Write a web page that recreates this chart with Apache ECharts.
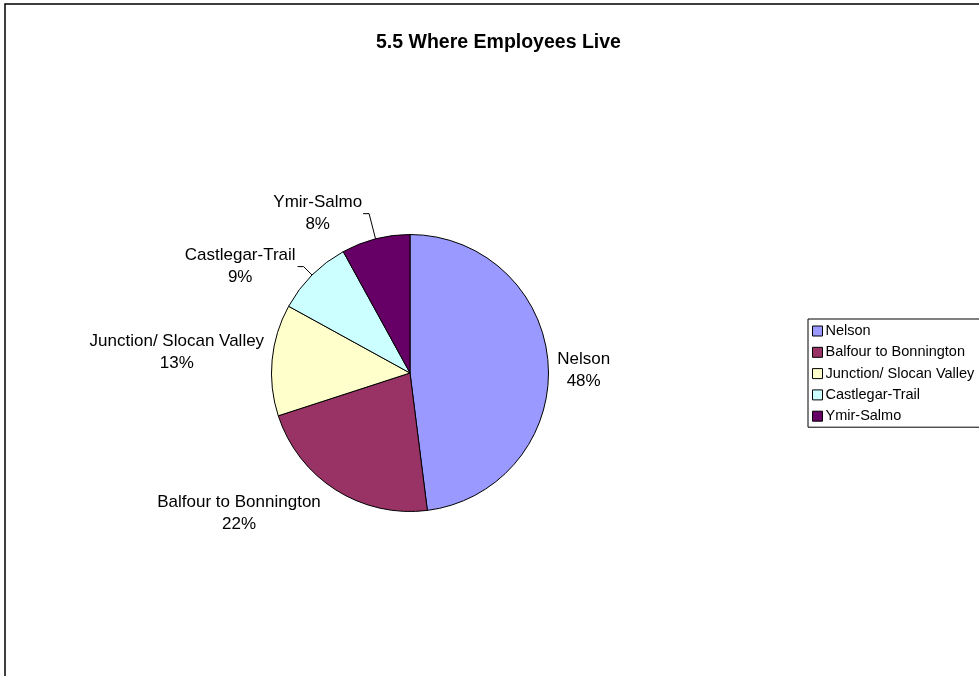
<!DOCTYPE html>
<html>
<head>
<meta charset="utf-8">
<script src="https://cdn.jsdelivr.net/npm/echarts@6/dist/echarts.min.js"></script>
<style>
  html, body { margin: 0; padding: 0; background: #fff; }
  #chart { width: 979px; height: 676px; }
</style>
</head>
<body>
<div id="chart"></div>
<script>
// Where employees live, share of staff (%)
const categories = ['Nelson', 'Balfour to Bonnington', 'Junction/ Slocan Valley', 'Castlegar-Trail', 'Ymir-Salmo'];
const shares = [48, 22, 13, 9, 8];

// Slice fills, in category order
const sliceColors = ['#9999FF', '#993366', '#FFFFCC', '#CCFFFF', '#660066'];

// Label placement per slice: leader line lengths, gap to text, whether the line is drawn
const labelPlacement = [
  { length: 2,  length2: 2, gap: 5, line: false, dy: 6 },
  { length: 28, length2: 0, gap: 0, line: false, dy: 0 },
  { length: 0,  length2: 3, gap: 5, line: false, dy: -8 },
  { length: 12, length2: 6, gap: 2, line: true,  dy: 0 },
  { length: 26, length2: 6, gap: 1, line: true,  dy: 0 }
];

const FONT = '"Liberation Sans", Arial, Helvetica, sans-serif';

const chart = echarts.init(document.getElementById('chart'), null, { renderer: 'canvas' });

const pieData = categories.map((name, i) => ({
  name: name,
  value: shares[i],
  itemStyle: { color: sliceColors[i] },
  label: { distanceToLabelLine: labelPlacement[i].gap },
  labelLine: {
    show: labelPlacement[i].line,
    length: labelPlacement[i].length,
    length2: labelPlacement[i].length2
  }
}));

chart.setOption({
  animation: false,
  backgroundColor: '#ffffff',
  graphic: [{
    type: 'rect',
    shape: { x: 5, y: 4, width: 1200, height: 1000 },
    style: { fill: 'none', stroke: '#000000', lineWidth: 1.5 },
    silent: true
  }],
  title: {
    text: '5.5 Where Employees Live',
    left: 376,
    top: 33,
    padding: 0,
    textStyle: { fontFamily: FONT, fontSize: 19.5, fontWeight: 'bold', color: '#000000' }
  },
  legend: {
    orient: 'vertical',
    left: 808,
    top: 319,
    padding: [4, 60, 3, 4],
    itemGap: 5.3,
    itemWidth: 10,
    itemHeight: 10,
    icon: 'rect',
    borderColor: '#000000',
    borderWidth: 1,
    backgroundColor: '#ffffff',
    itemStyle: { borderColor: '#000000', borderWidth: 1 },
    textStyle: { fontFamily: FONT, fontSize: 14.5, lineHeight: 16, color: '#000000', padding: [0, 0, 0, -2] },
    data: categories
  },
  series: [{
    type: 'pie',
    center: [410, 373],
    radius: 138.5,
    startAngle: 90,
    clockwise: true,
    avoidLabelOverlap: false,
    itemStyle: { borderColor: '#000000', borderWidth: 1 },
    label: {
      show: true,
      position: 'outside',
      formatter: '{t|{b}}\n{t|{d}%}',
      fontFamily: FONT,
      fontSize: 17,
      color: '#000000',
      rich: {
        t: { align: 'center', fontFamily: FONT, fontSize: 17, lineHeight: 22, color: '#000000' }
      }
    },
    labelLine: {
      lineStyle: { color: '#000000', width: 1 },
      smooth: false
    },
    labelLayout: function (params) {
      const p = labelPlacement[params.dataIndex];
      return p && p.dy ? { dy: p.dy } : {};
    },
    emphasis: { disabled: true },
    data: pieData
  }]
});
</script>
</body>
</html>
